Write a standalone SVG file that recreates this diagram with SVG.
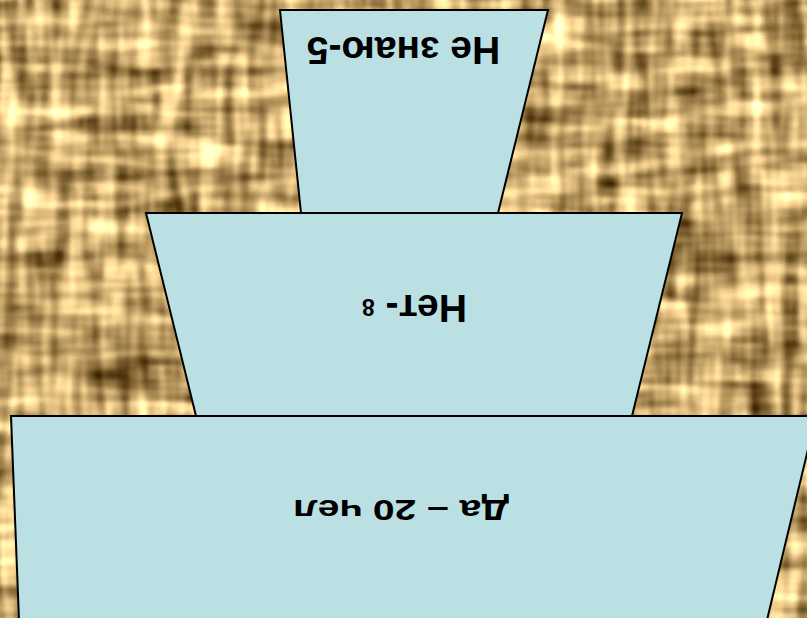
<svg xmlns="http://www.w3.org/2000/svg" width="807" height="618" viewBox="0 0 807 618">
<defs>
<filter id="burlap" x="0" y="0" width="807" height="618" filterUnits="userSpaceOnUse" color-interpolation-filters="sRGB">
<feTurbulence type="fractalNoise" baseFrequency="0.06 0.012" numOctaves="2" seed="3" result="h"/>
<feTurbulence type="fractalNoise" baseFrequency="0.012 0.06" numOctaves="2" seed="9" result="v"/>
<feComposite in="h" in2="v" operator="arithmetic" k1="0" k2="0.5" k3="0.5" k4="0" result="m"/>
<feColorMatrix in="m" type="matrix" values="2.0 0 0 0 -0.22  1.9 0 0 0 -0.3  1.6 0 0 0 -0.38  0 0 0 0 1"/>
</filter>
<style>
.tier{fill:#BAE0E4;stroke:#000;stroke-width:2;stroke-linejoin:miter}
.lbl{font-family:"Liberation Sans",Arial,sans-serif;font-weight:bold;fill:#000;text-anchor:middle}
</style>
</defs>
<rect x="0" y="0" width="807" height="618" fill="#C9A972"/>
<rect x="0" y="0" width="807" height="618" filter="url(#burlap)"/>
<g id="tier-top">
<polygon class="tier" points="280,10 548,10 498,213 301,213"/>
<text class="lbl" font-size="39" transform="translate(403.5,37) rotate(180)">Не знаю-5</text>
</g>
<g id="tier-middle">
<polygon class="tier" points="146,213 682,213 632,416 196,416"/>
<text class="lbl" font-size="39" transform="translate(414.5,295) rotate(180)">Нет- <tspan font-size="23" dy="-4">8</tspan></text>
</g>
<g id="tier-bottom">
<polygon class="tier" points="11,416 816,416 767,620 19,620"/>
<text class="lbl" font-size="30" transform="translate(401,500) rotate(180) scale(1.3,1)">Да – 20 чел</text>
</g>
</svg>
